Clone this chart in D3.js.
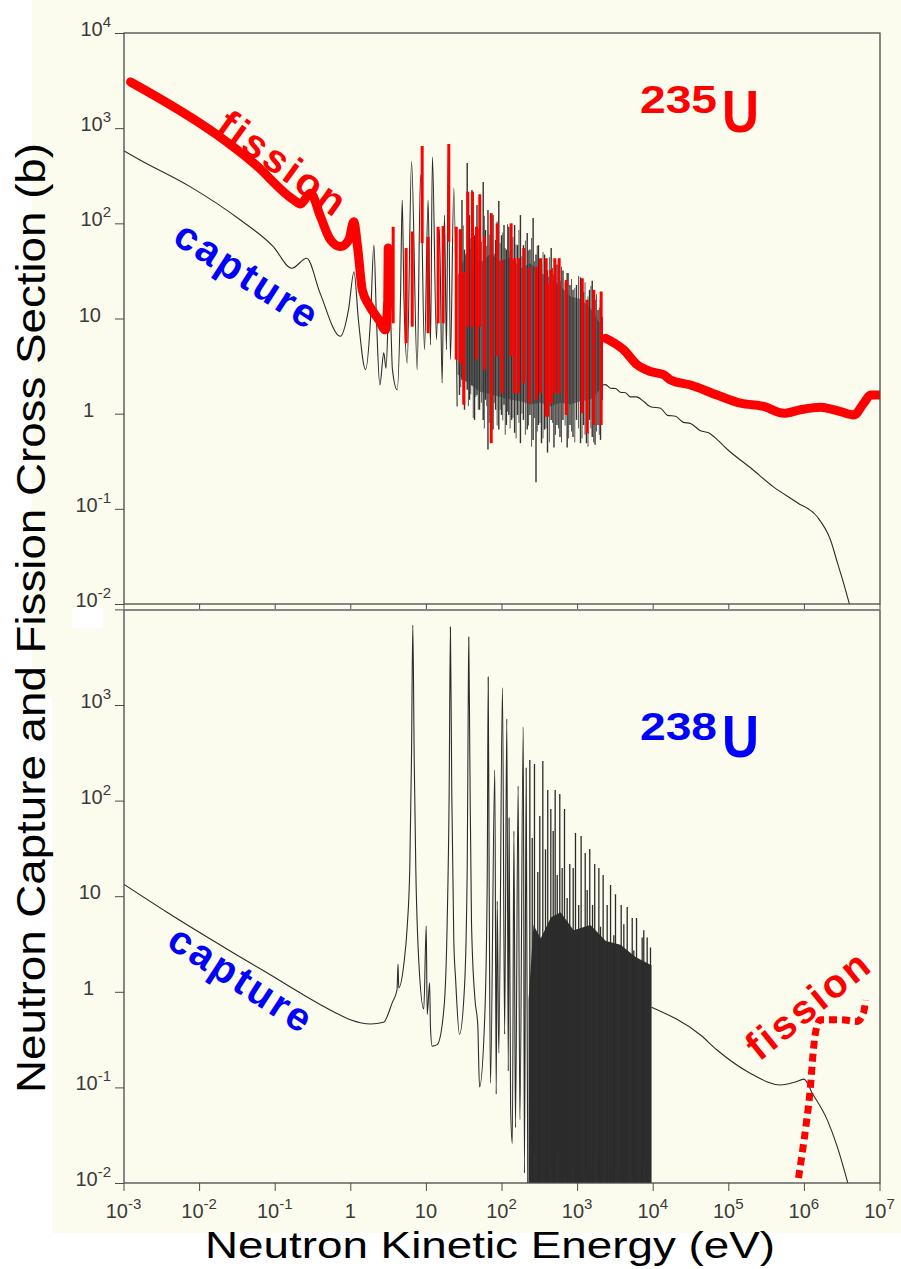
<!DOCTYPE html>
<html>
<head>
<meta charset="utf-8">
<script src="https://cdn.jsdelivr.net/npm/d3@7"></script>
<style>
  html, body { margin: 0; padding: 0; background: #fff; }
  svg { display: block; }
  text { font-family: "Liberation Sans", Arial, Helvetica, sans-serif; }
</style>
</head>
<body>
<div id="chart"></div>
<script>
// ---- data (energy in eV, cross section in barn) ----
const xTickExp = [-3, -2, -1, 0, 1, 2, 3, 4, 5, 6, 7];
const yTopTickExp = [-2, -1, 0, 1, 2, 3, 4];
const yBotTickExp = [-2, -1, 0, 1, 2, 3];

// U-235 capture, thermal + resolved part
const u235CapE = [0.001, 0.00165, 0.0076, 0.0348, 0.0957, 0.168, 0.265, 0.397, 0.74, 0.946, 1.12, 1.28, 1.59, 1.85, 2.05, 2.22, 2.46, 2.77, 2.97, 3.30, 3.61, 4.17, 4.61, 4.86, 5.13, 5.66, 6.46, 7.67, 8.49, 9.58, 10.7, 11.5, 12.2, 13.8, 15.1, 16.4, 17.6, 18.7, 19.8, 21.1, 23.4, 25.9];
const u235CapS = [580, 463, 243, 109, 57, 33.7, 43, 18.6, 6.5, 12.3, 31, 9.7, 2.9, 9.7, 59, 9.7, 2.0, 4.35, 3.0, 20, 2.9, 1.78, 15.7, 176, 15.7, 3.4, 445, 2.9, 322, 4.7, 176, 5.3, 498, 6.0, 85, 2.1, 122, 4.7, 590, 3.7, 235, 1.19];
// U-235 capture, dense resonances (strong lines)
const u235SpikeE = [27.8, 30.0, 32.4, 35.2, 37.8, 40.7, 44.0, 47.4, 51.2, 57.3, 61.4, 66.2, 71.5, 77.2, 83.4, 92.1, 100, 108, 116, 125, 136, 149, 163, 178, 195, 219, 238, 262, 286, 308, 338, 371, 406, 454, 494, 542, 594, 650, 739, 805, 883, 982, 1110, 1216, 1330, 1459, 1585, 1726, 1890, 2040, 2150];
const u235SpikeHi = [85, 176, 53, 431, 122, 224, 75, 156, 53, 272, 85, 138, 59, 122, 67, 172, 75, 96, 53, 92, 67, 96, 59, 122, 59, 79, 53, 114, 47, 59, 37, 47, 32, 55, 29, 37, 25, 32, 30, 22.5, 20, 22.5, 27, 19, 15.7, 20, 25, 15.7, 12.3, 15.7, 10.4];
const u235SpikeLo = [1.57, 2.26, 1.10, 1.78, 1.40, 2.0, 0.86, 1.57, 1.10, 0.86, 1.40, 0.42, 0.97, 0.68, 1.10, 0.68, 0.97, 1.24, 0.76, 0.97, 0.86, 0.63, 0.97, 0.49, 0.86, 0.68, 0.97, 0.53, 0.19, 0.76, 0.49, 0.68, 0.39, 0.86, 0.44, 0.76, 0.57, 0.86, 0.44, 0.76, 0.57, 0.86, 0.49, 0.76, 0.49, 0.86, 0.57, 0.47, 0.76, 0.53, 1.40];
// U-235 capture, dense resonances (weaker lines in between)
const u235Spike2E = [28.9, 31.2, 33.8, 36.5, 39.2, 42.3, 45.7, 49.3, 54.2, 59.3, 63.8, 68.8, 74.3, 80.2, 87.6, 96, 104, 112, 120, 130, 142, 156, 170, 186, 207, 228, 250, 274, 297, 323, 354, 388, 430, 474, 518, 568, 622, 695, 772, 844, 932, 1046, 1163, 1273, 1394, 1522, 1655, 1808, 1965, 2095];
const u235Spike2Hi = [60, 95, 48, 140, 70, 110, 52, 88, 64, 120, 58, 76, 90, 48, 105, 62, 80, 55, 98, 50, 72, 60, 85, 45, 66, 52, 70, 40, 58, 36, 50, 30, 44, 34, 40, 28, 35, 24, 30, 26, 21, 28, 18, 24, 17, 22, 15, 18, 13, 12];
const u235Spike2Lo = [1.9, 1.3, 2.2, 1.2, 1.6, 0.9, 1.5, 1.1, 1.3, 0.7, 1.2, 0.8, 1.0, 1.3, 0.75, 1.1, 0.85, 0.6, 1.05, 0.7, 0.9, 0.55, 0.8, 1.0, 0.6, 0.75, 0.45, 0.9, 0.65, 0.8, 0.55, 0.7, 0.5, 0.8, 0.6, 0.7, 0.5, 0.75, 0.55, 0.65, 0.5, 0.7, 0.55, 0.6, 0.45, 0.7, 0.5, 0.65, 0.6, 0.8];
const u235BandE = [26.2, 33, 38.9, 52, 71.5, 95, 132, 180, 242, 330, 445, 600, 818, 1100, 1500, 2170];
const u235BandHi = [28, 45, 55, 38, 48, 40, 44, 34, 38, 30, 27, 22, 17, 16, 13, 8];
const u235BandLo = [2.6, 2.2, 2.0, 1.7, 1.6, 1.5, 1.4, 1.35, 1.25, 1.3, 1.2, 1.3, 1.25, 1.35, 1.4, 1.9];
// U-235 capture above the resonances
const u235TailE = [2170, 2380, 2770, 3220, 3750, 4370, 5080, 6110, 7620, 9350, 12700, 15700, 20000, 25500, 31600, 42900, 54700, 72000, 97500, 197000, 396000, 820000, 1510000, 2250000, 2780000, 3340000, 4000000];
const u235TailS = [2.0, 2.02, 1.85, 1.84, 1.68, 1.66, 1.50, 1.50, 1.34, 1.18, 1.14, 0.96, 0.94, 0.81, 0.79, 0.66, 0.63, 0.53, 0.42, 0.27, 0.17, 0.116, 0.082, 0.047, 0.027, 0.0167, 0.01];

// U-235 fission (red)
const u235FisE = [0.00124, 0.0173, 0.053, 0.179, 0.219, 0.298, 0.404, 0.547, 0.741, 0.955, 1.11, 1.26, 1.44, 1.76, 2.38, 2.92, 3.13, 3.17];
const u235FisS = [3060, 849, 428, 176, 160, 207, 117, 67, 57, 67, 104, 53, 20, 13.9, 9.7, 7.6, 15.7, 55];
const u235FisResE = [3.69, 5.48, 6.59, 8.93, 10.7, 14.5, 16.9, 20.1, 25.2, 28.7, 31.7, 35.8, 41.3, 46.7, 51.6, 59.6, 73.1, 87.7, 101, 134, 149, 168, 197, 232, 290, 328, 390, 409, 454, 507, 579, 718, 1170, 1360, 1660, 2080];
const u235FisResHi = [92, 55, 82, 650, 72, 92, 94, 682, 92, 87, 31, 215, 215, 92, 202, 72, 128, 100, 41, 100, 43, 43, 55, 34, 35, 43, 43, 23.5, 32.4, 43, 43, 25.4, 26.5, 15.7, 20, 19.2];
const u235FisResLo = [8.9, 5.5, 8.2, 62, 7.0, 8.9, 8.9, 64, 3.7, 3.4, 1.24, 8.2, 8.2, 3.7, 8.2, 2.9, 0.49, 4.0, 1.64, 4.0, 1.64, 1.64, 2.1, 1.29, 1.40, 1.64, 0.93, 0.93, 1.29, 1.64, 1.64, 0.97, 1.01, 0.62, 0.76, 0.76];
const u235FisFastE = [2380, 4110, 6240, 9350, 14000, 17200, 31600, 71000, 145000, 295000, 542000, 900000, 1660000, 3050000, 4570000, 6200000, 7600000, 10300000];
const u235FisFastS = [6.2, 4.7, 3.26, 2.77, 2.56, 2.26, 2.0, 1.57, 1.29, 1.19, 1.01, 1.10, 1.17, 1.05, 0.97, 1.29, 1.57, 1.57];

// U-238 capture, thermal + resolved part
const u238CapE = [0.001, 0.00376, 0.0285, 0.080, 0.219, 0.60, 1.0, 1.86, 2.75, 3.61, 4.15, 4.28, 4.37, 5.10, 5.66, 6.12, 6.45, 6.71, 7.0, 7.35, 8.05, 9.38, 10.1, 10.4, 11.2, 11.5, 12.1, 14.1, 17.3, 19.1, 20.3, 21.1, 22.0, 23.4, 24.7, 27.8, 32.4, 35.2, 36.2, 36.9, 38.1, 40.1, 44.4, 48.6, 51.2, 60.1, 64.7, 66.7, 68.7, 71.5, 81.5, 85.1, 87.7, 92.1, 103, 110, 117.5, 123, 126, 132, 139, 146, 153, 166, 175, 194, 201, 212, 223];
const u238CapS = [13.4, 6.8, 2.55, 1.57, 0.97, 0.62, 0.51, 0.46, 0.48, 0.78, 1.05, 1.95, 1.10, 1.93, 4.8, 19.7, 282, 6870, 282, 19.7, 2.1, 0.66, 4.9, 0.58, 1.24, 0.42, 0.27, 0.28, 0.66, 5.1, 117, 6550, 117, 3.4, 1.37, 0.36, 1.12, 19.7, 697, 5140, 290, 5.3, 0.86, 0.44, 0.101, 0.56, 13.7, 1960, 13.7, 0.111, 209, 0.085, 8.9, 0.228, 1510, 0.36, 714, 0.148, 65.8, 0.061, 0.026, 48, 0.038, 142, 0.046, 589, 0.0127, 219, 0.008];
// U-238 capture, dense resonances
const u238SpikeE = [237, 255, 273, 302, 321, 352, 382, 409, 449, 483, 513, 546, 590, 635, 681, 739, 800, 888, 952, 1050, 1130, 1280, 1360, 1470, 1600, 1710, 1940, 2040, 2210, 2500, 2770, 3060, 3220, 3830, 4150, 4600, 5360, 5620, 6110, 7260, 7620, 8450, 9350];
const u238SpikeHi = [266, 40.6, 241, 17.9, 69, 259, 31, 129, 81.6, 48, 129, 16.7, 117, 19.7, 81.6, 9.6, 21.7, 19.7, 45.8, 8.1, 42.7, 28.3, 11.6, 31.2, 8.1, 21.7, 19.7, 4.8, 16.7, 8.1, 13.1, 3.9, 10.5, 8.1, 5.1, 7.7, 5.9, 2.7, 5.9, 3.7, 4.4, 3.7, 2.9];
const u238SpikeLo = [0.012, 0.006, 0.02, 0.006, 0.006, 0.012, 0.006, 0.006, 0.015, 0.006, 0.006, 0.02, 0.006, 0.006, 0.012, 0.006, 0.006, 0.015, 0.006, 0.006, 0.006, 0.012, 0.006, 0.006, 0.006, 0.02, 0.006, 0.006, 0.012, 0.006, 0.006, 0.006, 0.015, 0.006, 0.006, 0.006, 0.012, 0.006, 0.006, 0.006, 0.015, 0.006, 0.006];
const u238BandE = [228, 265, 330, 450, 603, 900, 1500, 2400, 3750, 6000, 9640];
const u238BandHi = [0.82, 5.0, 3.6, 6.0, 6.8, 4.4, 5.0, 3.4, 3.1, 2.3, 1.9];
// U-238 capture above the resonances
const u238TailE = [9640, 42900, 71000, 197000, 490000, 774000, 1000000, 1290000, 2030000, 2760000, 3810000];
const u238TailS = [0.69, 0.353, 0.246, 0.140, 0.106, 0.114, 0.122, 0.087, 0.046, 0.024, 0.01];
// U-238 fission (red, dotted)
const u238FisE = [850000, 950000, 1080000, 1220000, 1310000, 1420000, 1660000, 3050000, 5070000, 6200000, 6530000];
const u238FisS = [0.0113, 0.0206, 0.043, 0.101, 0.208, 0.37, 0.51, 0.51, 0.49, 0.62, 0.82];

// ---- layout ----
const W = 901, H = 1269;
const left = 124, right = 880;
const top1 = 33, bot1 = 604, top2 = 610, bot2 = 1183;
const RED = '#ff0000', BLUE = '#0000ff', INK = '#2b2b2b', FRAME = '#4a4a4a';

const x = d3.scaleLog().domain([1e-3, 1e7]).range([123.5, 879.5]);
const yTop = d3.scaleLog().domain([1e-2, 1e4]).range([bot1, top1]);
const yBot = d3.scaleLog().domain([1e-2, 1e4]).range([bot2, 609.4]);

const svg = d3.select('#chart').append('svg')
  .attr('width', W)
  .attr('height', H);

// page / scanned paper
svg.append('rect').attr('width', W).attr('height', H).attr('fill', '#fff');
svg.append('path').attr('d', 'M32,0H901V1233H52V697H32Z').attr('fill', '#fcfcee');
svg.append('rect').attr('x', 72).attr('y', 607).attr('width', 31).attr('height', 21).attr('fill', '#fff');

const defs = svg.append('defs');
defs.append('clipPath').attr('id', 'clipTop')
  .append('rect').attr('x', left).attr('y', top1).attr('width', right - left).attr('height', bot1 - top1);
defs.append('clipPath').attr('id', 'clipBot')
  .append('rect').attr('x', left).attr('y', top2).attr('width', right - left).attr('height', bot2 - top2);

const pairs = (a, b) => d3.zip(a, b);
const lineFor = (y) => d3.line().x(d => x(d[0])).y(d => y(d[1])).curve(d3.curveMonotoneX);

// vertical resonance lines
function spikes(g, y, E, hi, lo, color, width) {
  g.append('g')
    .selectAll('line')
    .data(d3.range(E.length))
    .join('line')
    .attr('x1', i => x(E[i])).attr('x2', i => x(E[i]))
    .attr('y1', i => y(hi[i])).attr('y2', i => y(lo[i]))
    .attr('stroke', color).attr('stroke-width', width);
}

// Axes helpers
const minorVals = (lo, hi) => {
  const v = [];
  for (let e = lo; e < hi; e++) {
    for (let k = 2; k <= 9; k++) v.push(k * Math.pow(10, e));
  }
  return v;
};

function yAxis(y, exps) {
  const g = svg.append('g').attr('transform', `translate(${left},0)`);
  g.call(d3.axisLeft(y).tickValues(minorVals(-2, 4)).tickSize(5).tickFormat(''));
  g.call(d3.axisLeft(y).tickValues([1e-2, 1e-1, 1, 10, 100, 1e3, 1e4]).tickSize(9).tickFormat(''));
  g.selectAll('.domain').remove();
  g.selectAll('line').attr('stroke', FRAME).attr('stroke-width', 1);

  exps.forEach(e => {
    const t = svg.append('text')
      .attr('y', y(Math.pow(10, e)) + 3)
      .attr('text-anchor', 'end')
      .attr('fill', '#3a3a3a')
      .attr('font-size', 20);
    if (e === 0) {
      t.attr('x', 94).text('1');
    } else if (e === 1) {
      t.attr('x', 101).text('10');
    } else {
      t.attr('x', 111);
      t.append('tspan').text('10');
      t.append('tspan').attr('dy', -9).attr('font-size', 15).text(String(e));
    }
  });
}

function xAxis(yPos, major, minor, labels) {
  const g = svg.append('g').attr('transform', `translate(0,${yPos})`);
  g.call(d3.axisBottom(x).tickValues(minorVals(-3, 7)).tickSize(minor).tickFormat(''));
  g.call(d3.axisBottom(x).tickValues(xTickExp.map(e => Math.pow(10, e))).tickSize(major).tickFormat(''));
  g.selectAll('.domain').remove();
  g.selectAll('line').attr('stroke', FRAME).attr('stroke-width', 1);
  if (!labels) return;
  xTickExp.forEach(e => {
    const t = svg.append('text')
      .attr('x', x(Math.pow(10, e)))
      .attr('y', 1218)
      .attr('text-anchor', 'middle')
      .attr('fill', '#3a3a3a')
      .attr('font-size', 20);
    if (e === 0) t.text('1');
    else if (e === 1) t.text('10');
    else {
      t.append('tspan').text('10');
      t.append('tspan').attr('dy', -9).attr('font-size', 15).text(String(e));
    }
  });
}

// ======== top panel : U-235 ========
const gTop = svg.append('g').attr('clip-path', 'url(#clipTop)');

gTop.append('path')
  .datum(d3.zip(u235BandE, u235BandHi, u235BandLo))
  .attr('d', d3.area().x(d => x(d[0])).y0(d => yTop(d[2])).y1(d => yTop(d[1])))
  .attr('fill', '#4e4e4e')
  .attr('opacity', 0.75);

gTop.append('path')
  .datum(pairs(u235CapE, u235CapS))
  .attr('d', lineFor(yTop))
  .attr('fill', 'none').attr('stroke', INK).attr('stroke-width', 1.1);

spikes(gTop, yTop, u235Spike2E, u235Spike2Hi, u235Spike2Lo, '#555', 1);
spikes(gTop, yTop, u235SpikeE, u235SpikeHi, u235SpikeLo, '#333', 1.4);

gTop.append('path')
  .datum(pairs(u235TailE, u235TailS))
  .attr('d', lineFor(yTop))
  .attr('fill', 'none').attr('stroke', INK).attr('stroke-width', 1.1);

// fission (red)
spikes(gTop, yTop, u235FisResE, u235FisResHi, u235FisResLo, RED, 3);

[[u235FisE, u235FisS], [u235FisFastE, u235FisFastS]].forEach(([e, s]) => {
  gTop.append('path')
    .datum(pairs(e, s))
    .attr('d', lineFor(yTop))
    .attr('fill', 'none')
    .attr('stroke', RED)
    .attr('stroke-width', 9)
    .attr('stroke-linejoin', 'round')
    .attr('stroke-linecap', 'round');
});

// ======== bottom panel : U-238 ========
const gBot = svg.append('g').attr('clip-path', 'url(#clipBot)');

gBot.append('path')
  .datum(pairs(u238BandE, u238BandHi))
  .attr('d', d3.area().x(d => x(d[0])).y0(yBot(yBot.domain()[0]) + 2).y1(d => yBot(d[1])))
  .attr('fill', '#2e2e2e');

gBot.append('path')
  .datum(pairs(u238CapE, u238CapS))
  .attr('d', lineFor(yBot))
  .attr('fill', 'none').attr('stroke', INK).attr('stroke-width', 1.1);

spikes(gBot, yBot, u238SpikeE, u238SpikeHi, u238SpikeLo, INK, 1.3);

gBot.append('path')
  .datum(pairs(u238TailE, u238TailS))
  .attr('d', lineFor(yBot))
  .attr('fill', 'none').attr('stroke', INK).attr('stroke-width', 1.1);

gBot.append('path')
  .datum(pairs(u238FisE, u238FisS))
  .attr('d', lineFor(yBot))
  .attr('fill', 'none')
  .attr('stroke', RED)
  .attr('stroke-width', 7)
  .attr('stroke-dasharray', '8,5');

// ======== frames, ticks ========
[[top1, bot1], [top2, bot2]].forEach(([t, b]) => {
  svg.append('rect')
    .attr('x', left).attr('y', t)
    .attr('width', right - left).attr('height', b - t)
    .attr('fill', 'none').attr('stroke', FRAME).attr('stroke-width', 1.3);
});

yAxis(yTop, yTopTickExp);
yAxis(yBot, yBotTickExp);
xAxis(bot1, 5, 3, false);
xAxis(bot2, 8, 4, true);

// ======== annotations ========
function rotLabel(txt, cx, cy, ang, len, color) {
  svg.append('text')
    .attr('transform', `translate(${cx},${cy}) rotate(${ang})`)
    .attr('text-anchor', 'middle')
    .attr('font-size', 40)
    .attr('font-weight', 'bold')
    .attr('fill', color)
    .attr('textLength', len)
    .attr('lengthAdjust', 'spacing')
    .text(txt);
}
rotLabel('fission', 274, 174, 36, 148, RED);
rotLabel('capture', 239, 286, 33, 162, BLUE);
rotLabel('capture', 233, 990, 33, 162, BLUE);
rotLabel('fission', 816, 1016, -39, 146, RED);

function isotope(mass, yMass, yU, color) {
  svg.append('text')
    .attr('x', 640).attr('y', yMass)
    .attr('font-size', 38).attr('font-weight', 'bold').attr('fill', color)
    .attr('textLength', 77).attr('lengthAdjust', 'spacingAndGlyphs')
    .text(mass);
  svg.append('text')
    .attr('x', 722).attr('y', yU)
    .attr('font-size', 60).attr('font-weight', 'bold').attr('fill', color)
    .attr('textLength', 37).attr('lengthAdjust', 'spacingAndGlyphs')
    .text('U');
}
isotope('235', 113, 132, RED);
isotope('238', 740, 757, BLUE);

// axis titles
svg.append('text')
  .attr('transform', 'translate(45,618) rotate(-90)')
  .attr('text-anchor', 'middle')
  .attr('font-size', 41)
  .attr('fill', '#000')
  .attr('textLength', 950)
  .attr('lengthAdjust', 'spacingAndGlyphs')
  .text('Neutron Capture and Fission Cross Section (b)');

svg.append('text')
  .attr('x', 490).attr('y', 1258)
  .attr('text-anchor', 'middle')
  .attr('font-size', 36)
  .attr('fill', '#000')
  .attr('textLength', 570)
  .attr('lengthAdjust', 'spacingAndGlyphs')
  .text('Neutron Kinetic Energy (eV)');
</script>
</body>
</html>
